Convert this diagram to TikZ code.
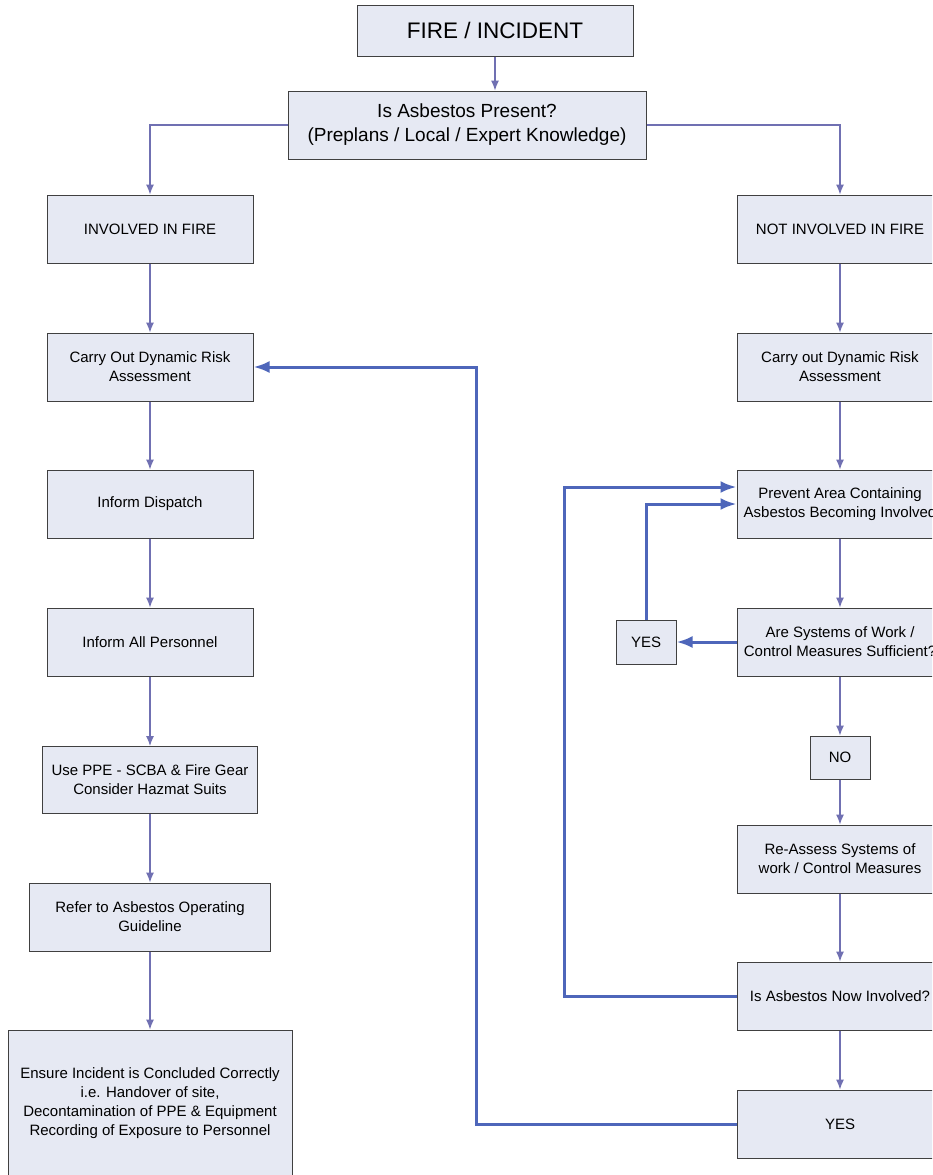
\documentclass[tikz,border=0pt]{standalone}
\usepackage{fontspec}
\setmainfont{Liberation Sans}
\usetikzlibrary{arrows.meta}
\definecolor{boxfill}{RGB}{230,233,243}
\definecolor{thinline}{RGB}{112,112,178}
\definecolor{thickline}{RGB}{78,102,186}
\begin{document}
\begin{tikzpicture}[x=1pt,y=-1pt]
\tikzstyle{box}=[rectangle,draw=black!75,fill=boxfill,line width=1pt,minimum width=206pt,minimum height=68pt,inner sep=2pt,align=center,font=\fontsize{15}{19}\selectfont]
\tikzstyle{tbox}=[box,minimum width=60pt,minimum height=44pt]
\tikzstyle{flow}=[thinline,line width=1.1pt,-{Latex[length=10pt,width=8pt]}]
\tikzstyle{back}=[thickline,line width=3pt,-{Latex[length=16pt,width=12pt]}]
\clip (0,0) rectangle (932,1175);
\fill[white] (0,0) rectangle (932,1175);
\node (fire) at (495,30.5) [box,minimum width=276pt,minimum height=51pt,font=\fontsize{22.5}{27}\selectfont] {FIRE / INCIDENT};
\node (asb) at (467,125) [box,minimum width=358pt,font=\fontsize{19}{24}\selectfont] {Is Asbestos Present?\\(Preplans / Local / Expert Knowledge)};
% left column
\node (inv) at (150,229) [box] {INVOLVED IN FIRE};
\node (dra1) at (150,367) [box] {Carry Out Dynamic Risk\\Assessment};
\node (disp) at (150,504) [box] {Inform Dispatch};
\node (pers) at (150,642) [box] {Inform All Personnel};
\node (ppe) at (150,780) [box,minimum width=215pt,minimum height=67pt] {Use PPE - SCBA \& Fire Gear\\Consider Hazmat Suits};
\node (guide) at (150,917) [box,minimum width=241pt] {Refer to Asbestos Operating\\Guideline};
\node (conc) at (150,1103) [box,minimum width=284pt,minimum height=146pt] {Ensure Incident is Concluded Correctly\\i.e. Handover of site,\\Decontamination of PPE \& Equipment\\Recording of Exposure to Personnel};
% right column
\node (notinv) at (840,229) [box] {NOT INVOLVED IN FIRE};
\node (dra2) at (840,367) [box] {Carry out Dynamic Risk\\Assessment};
\node (prev) at (840,504) [box] {Prevent Area Containing\\Asbestos Becoming Involved};
\node (sys) at (840,642) [box] {Are Systems of Work /\\Control Measures Sufficient?};
\node (yes1) at (646,642) [tbox] {YES};
\node (no) at (840,757.5) [tbox,minimum height=43pt] {NO};
\node (reas) at (840,859) [box] {Re-Assess Systems of\\work / Control Measures};
\node (now) at (840,996) [box] {Is Asbestos Now Involved?};
\node (yes2) at (840,1124) [box] {YES};
% connectors
\draw[flow] (fire.south) -- (fire.south |- asb.north);
\draw[flow] (asb.west) -| (inv.north);
\draw[flow] (asb.east) -| (notinv.north);
\draw[flow] (inv) -- (dra1);
\draw[flow] (dra1) -- (disp);
\draw[flow] (disp) -- (pers);
\draw[flow] (pers) -- (ppe);
\draw[flow] (ppe) -- (guide);
\draw[flow] (guide) -- (conc);
\draw[flow] (notinv) -- (dra2);
\draw[flow] (dra2) -- (prev);
\draw[flow] (prev) -- (sys);
\draw[flow] (sys) -- (no);
\draw[flow] (no) -- (reas);
\draw[flow] (reas) -- (now);
\draw[flow] (now) -- (yes2);
\draw[back] (sys.west) -- (yes1.east);
\draw[back] (yes1.north) |- (prev.west);
\draw[back] (now.west) -- ++(-172,0) |- ([yshift=17pt]prev.west);
\draw[back] (yes2.west) -- ++(-260,0) |- (dra1.east);
\end{tikzpicture}
\end{document}
